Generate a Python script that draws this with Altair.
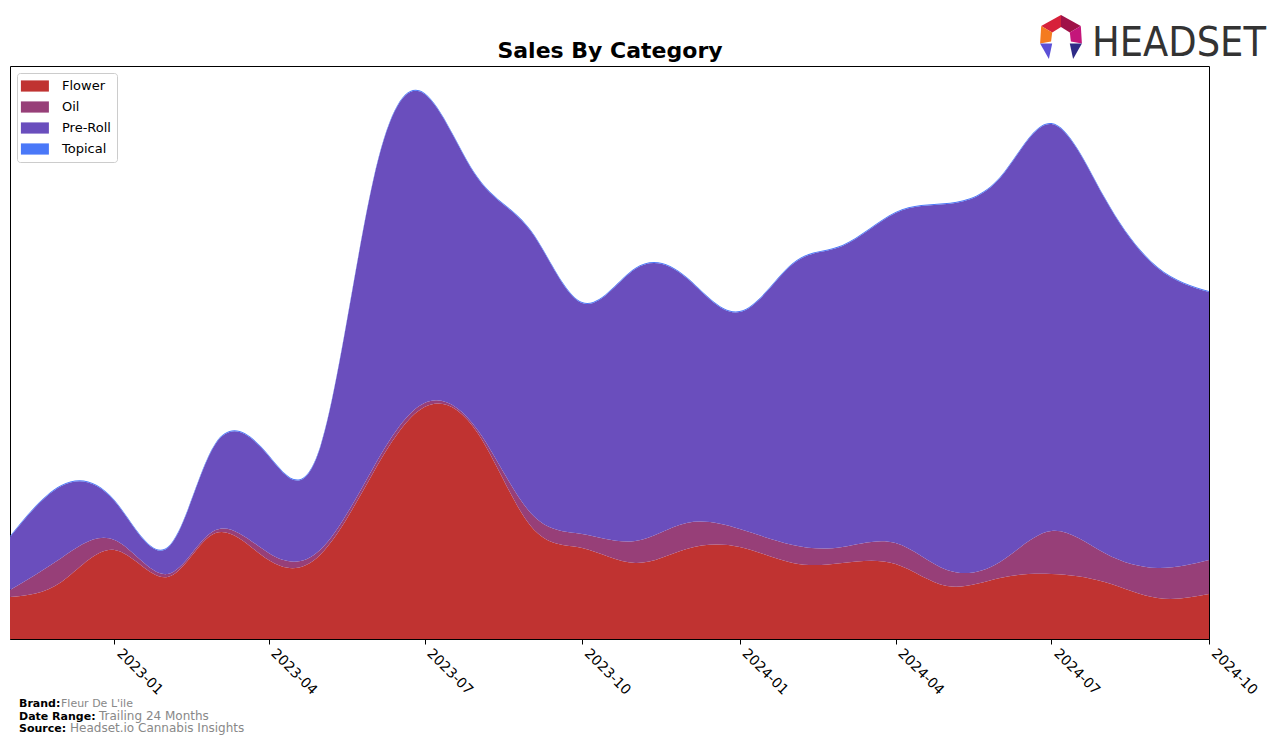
import altair as alt
import pandas as pd

# ---- data (heights) ----
months = ["2022-11-01", "2022-12-01", "2023-01-01", "2023-02-01", "2023-03-01", "2023-04-01",
          "2023-05-01", "2023-06-01", "2023-07-01", "2023-08-01", "2023-09-01", "2023-10-01",
          "2023-11-01", "2023-12-01", "2024-01-01", "2024-02-01", "2024-03-01", "2024-04-01",
          "2024-05-01", "2024-06-01", "2024-07-01", "2024-08-01", "2024-09-01", "2024-10-01"]
flower = [42, 57, 89, 62, 106, 79, 84, 166, 232, 206, 113, 91,
          76, 90, 92, 76, 76, 75, 53, 61, 65, 57, 41, 45]
oil = [7, 24, 10, 3, 3, 7, 5, 5, 4, 3, 13, 14,
       22, 26, 18, 18, 16, 21, 16, 16, 43, 29, 30, 34]
preroll = [53, 72, 39, 26, 86, 97, 102, 287, 309, 252, 282, 231,
           272, 245, 217, 281, 301, 330, 366, 384, 407, 355, 300, 268]
topical = [1, 1, 1, 1, 1, 1, 1, 1, 1, 1, 1, 1,
           1, 1, 1, 1, 1, 1, 1, 1, 1, 1, 1, 1]
categories = ["Flower", "Oil", "Pre-Roll", "Topical"]
colors = ["#c03331", "#973f78", "#6a4ebd", "#4a78f8"]
tick_dates = ["2023-01", "2023-04", "2023-07", "2023-10", "2024-01", "2024-04", "2024-07", "2024-10"]

rows = []
for i, m in enumerate(months):
    for k, (cat, vals) in enumerate(zip(categories, [flower, oil, preroll, topical])):
        rows.append({"date": m, "category": cat, "value": vals[i], "order": k})
df = pd.DataFrame(rows)

W, H = 1199, 573
FONT = "DejaVu Sans"


def dt(s):
    y, mo = s.split("-")[:2]
    return alt.DateTime(year=int(y), month=int(mo), date=1, utc=True)


area = alt.Chart(df).mark_area(interpolate="natural").encode(
    x=alt.X("date:T",
            scale=alt.Scale(type="utc", domain=[dt(months[0]), dt(months[-1])]),
            axis=alt.Axis(values=[dt(t) for t in tick_dates],
                          labelExpr="utcFormat(datum.value, '%Y-%m')",
                          labelAngle=45, labelAlign="left", labelBaseline="top",
                          labelFontSize=14, labelFont=FONT, labelColor="black",
                          tickColor="black", tickSize=5, domainColor="black",
                          grid=False, title=None, labelPadding=2, labelOffset=9,
                          labelOverlap=False)),
    y=alt.Y("value:Q", stack="zero", scale=alt.Scale(domain=[0, H], nice=False), axis=None),
    color=alt.Color("category:N", scale=alt.Scale(domain=categories, range=colors),
                    legend=alt.Legend(orient="none", legendX=7, legendY=7, title=None,
                                      labelFontSize=13, labelFont=FONT, labelColor="black",
                                      symbolType="M-1.3,-0.8L2.7,-0.8L2.7,0.8L-1.3,0.8Z",
                                      symbolSize=196, symbolStrokeWidth=0, symbolOpacity=1,
                                      labelOffset=25, rowPadding=7, padding=6,
                                      strokeColor="#cccccc", fillColor="white",
                                      cornerRadius=3)),
    order=alt.Order("order:Q"),
)

one = pd.DataFrame({"k": [0]})


def txt(text, x, y, size, color="black", bold=False, align="left", font=FONT):
    return alt.Chart(one).mark_text(
        align=align, baseline="alphabetic", fontSize=size, font=font,
        fontWeight="bold" if bold else "normal", color=color
    ).encode(x=alt.value(x), y=alt.value(y), text=alt.value(text))


texts = [
    txt("Sales By Category", 600, -8, 22, bold=True, align="center"),
    txt("Brand:", 9, 641, 11, bold=True),
    txt("Fleur De L'ile", 51, 641, 11, color="#888888"),
    txt("Date Range:", 9, 654, 11, bold=True),
    txt("Trailing 24 Months", 89, 654, 12, color="#888888"),
    txt("Source:", 9, 666, 11, bold=True),
    txt("Headset.io Cannabis Insights", 60, 666, 12, color="#888888"),
    txt("HEADSET", 1082, -10, 41, color="#333333", font="DejaVu Sans Condensed, Roboto, sans-serif"),
]

logo_parts = [
    ("M0,-1L-0.9,-0.5L-0.4,-0.2L0,-0.45Z", "#d7213a"),
    ("M0,-1L0.9,-0.5L0.4,-0.2L0,-0.45Z", "#a01248"),
    ("M-0.9,-0.5L-0.95,0.3L-0.45,0.2L-0.4,-0.2Z", "#f47b20"),
    ("M0.9,-0.5L0.95,0.3L0.45,0.2L0.4,-0.2Z", "#c4167a"),
    ("M-0.95,0.3L-0.4,0.3L-0.55,1Z", "#5b50d6"),
    ("M0.95,0.3L0.4,0.3L0.55,1Z", "#2e2b86"),
]
logo = [
    alt.Chart(one).mark_point(shape=p, filled=True, color=c, opacity=1, size=1936, strokeWidth=0)
    .encode(x=alt.value(1051), y=alt.value(-29))
    for p, c in logo_parts
]

chart = alt.layer(area, *texts, *logo).properties(
    width=W, height=H,
    autosize=alt.AutoSizeParams(type="none"),
    padding={"left": 10, "top": 66, "right": 67, "bottom": 106},
).configure_view(stroke="black", strokeWidth=1)

chart.save("out.html", embed_options={"renderer": "svg", "actions": False})
